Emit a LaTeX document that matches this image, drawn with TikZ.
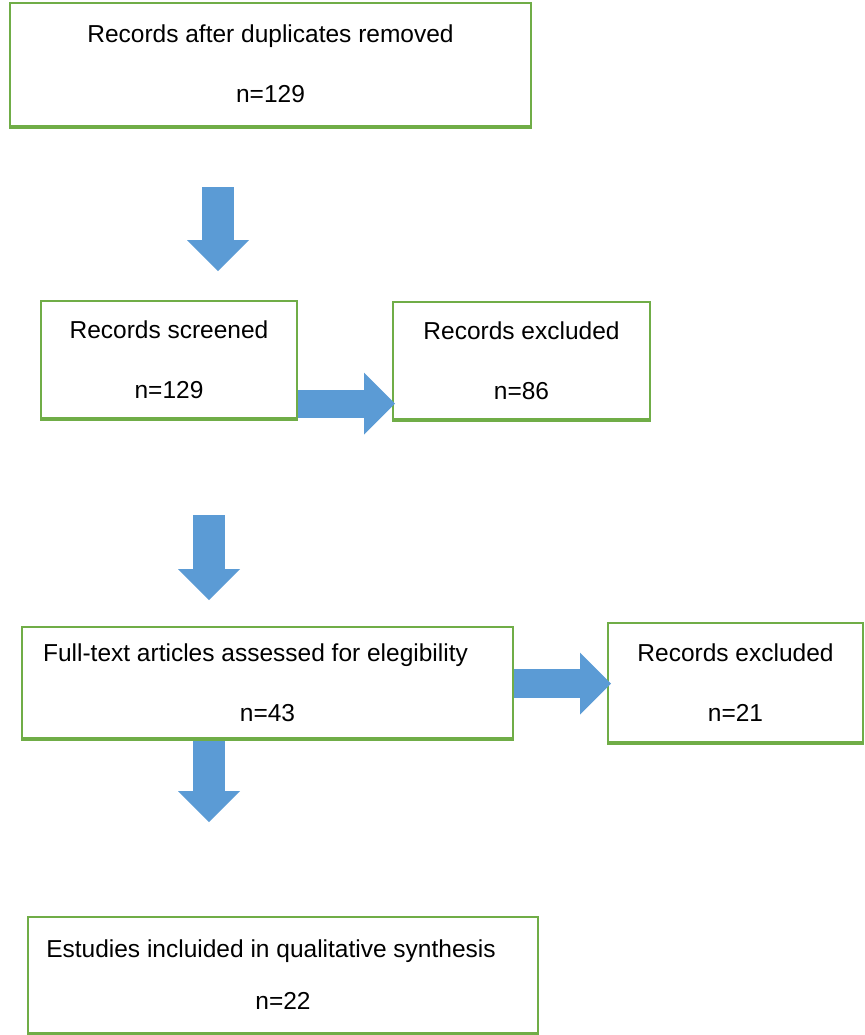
\documentclass[tikz,border=0pt]{standalone}
\usepackage{fontspec}
\setmainfont{Liberation Sans}
\usetikzlibrary{arrows.meta}

\definecolor{boxgreen}{RGB}{112,173,71}
\definecolor{arrowblue}{RGB}{91,155,213}

\tikzset{
  stagebox/.style={draw=boxgreen, line width=1pt, fill=white, align=center, inner sep=0pt,
    font=\fontsize{12.25}{30}\selectfont},
  boxbottom/.style={draw=boxgreen, line width=2pt},
  fatarrow/.style={draw=arrowblue, line width=#1,
    -{Triangle[width=31pt, length=15.5pt, line width=0pt]}},
  fatarrow/.default=16pt
}

\begin{document}
\begin{tikzpicture}[x=0.5pt, y=-0.5pt]
  \useasboundingbox (0,0) rectangle (864,1035);
  % boxes
  \node[stagebox, minimum width=260.5pt, minimum height=61.5pt] (dedup) at (270.5,64) {Records after duplicates removed\\n=129};
  \node[stagebox, minimum width=128pt, minimum height=58.5pt] (screened) at (169,359.5) {Records screened\\n=129};
  \node[stagebox, minimum width=128.5pt, minimum height=58.5pt] (exclA) at (521.5,360.5) {Records excluded\\n=86};
  \node[stagebox, minimum width=245.5pt, minimum height=55.5pt] (fulltext) at (267.5,682.5) {Full-text articles assessed for elegibility\hspace*{12pt}\\n=43};
  \node[stagebox, minimum width=127.5pt, minimum height=59.5pt] (exclB) at (735.5,682.5) {Records excluded\\n=21};
  \node[stagebox, minimum width=255pt, minimum height=58pt] (included) at (283,975) {Estudies incluided in qualitative synthesis\hspace*{12pt}\\[-4pt]n=22};

  % arrows
  \coordinate (downAtop) at (218,187);
  \coordinate (downAtip) at (218,271);
  \draw[fatarrow] (downAtop) -- (downAtip);
  \coordinate (downBtop) at (209,515);
  \coordinate (downBtip) at (209,600);
  \draw[fatarrow] (downBtop) -- (downBtip);
  \coordinate (downCtip) at (209,822);
  \draw[fatarrow] (fulltext.south -| downCtip) -- (downCtip);
  \coordinate (sideAtip) at (395,403.5);
  \draw[fatarrow=14pt] (screened.east |- sideAtip) -- (sideAtip);
  \coordinate (sideBtip) at (611,683.5);
  \draw[fatarrow=14.5pt] (fulltext.east |- sideBtip) -- (sideBtip);

  % heavier bottom edges
  \foreach \b in {dedup,screened,exclA,fulltext,exclB,included}
    \draw[boxbottom] (\b.south west) -- (\b.south east);
\end{tikzpicture}
\end{document}
